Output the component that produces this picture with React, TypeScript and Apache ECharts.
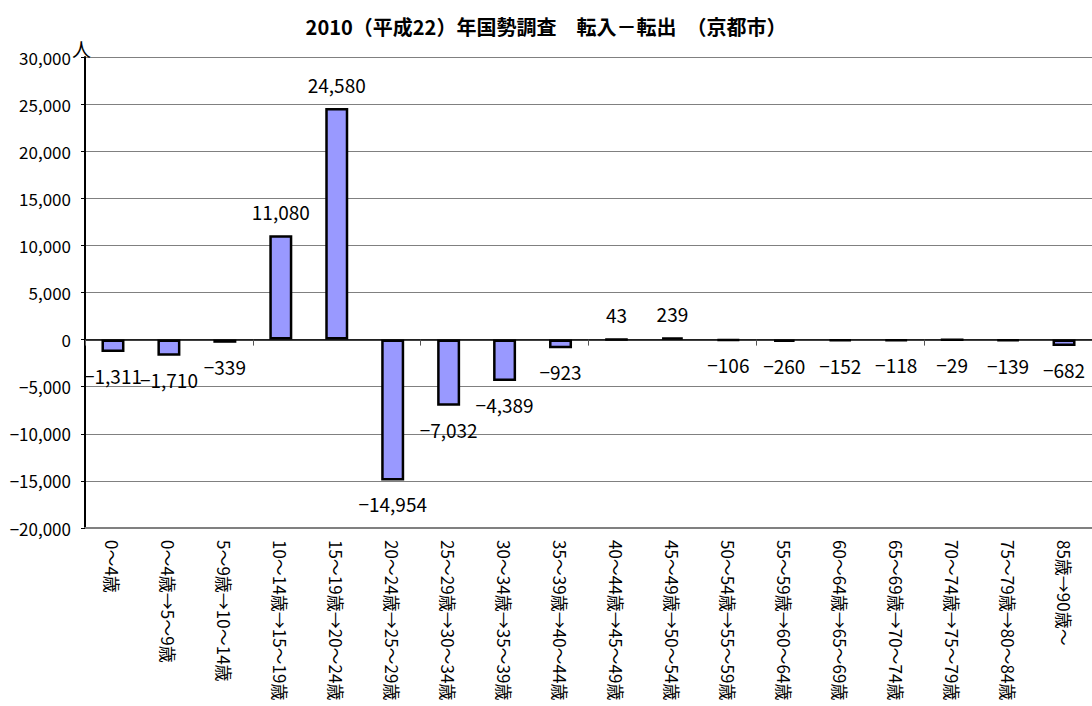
import { useEffect, useRef } from 'react'
import * as echarts from 'echarts'

const categories = [
  '0～4歳',
  '0～4歳→5～9歳',
  '5～9歳→10～14歳',
  '10～14歳→15～19歳',
  '15～19歳→20～24歳',
  '20～24歳→25～29歳',
  '25～29歳→30～34歳',
  '30～34歳→35～39歳',
  '35～39歳→40～44歳',
  '40～44歳→45～49歳',
  '45～49歳→50～54歳',
  '50～54歳→55～59歳',
  '55～59歳→60～64歳',
  '60～64歳→65～69歳',
  '65～69歳→70～74歳',
  '70～74歳→75～79歳',
  '75～79歳→80～84歳',
  '85歳→90歳～',
]

const netMigration = [
  -1311, -1710, -339, 11080, 24580, -14954, -7032, -4389, -923, 43, 239, -106, -260, -152, -118,
  -29, -139, -682,
]

const yMin = -20000
const yMax = 30000
const yStep = 5000

const FONT = '"Noto Sans CJK JP", "Noto Sans", sans-serif'

function fmt(v: number) {
  const s = Math.abs(v).toLocaleString('en-US')
  return v < 0 ? '−' + s : s
}

export default function App() {
  const chartRef = useRef<HTMLDivElement>(null)

  useEffect(() => {
    document.body.style.margin = '0'
    if (!chartRef.current) return
    const chart = echarts.init(chartRef.current, undefined, { renderer: 'svg' })

    chart.setOption({
      animation: false,
      textStyle: { fontFamily: FONT },
      title: {
        text: '2010（平成22）年国勢調査　転入－転出　（京都市）',
        left: 'center',
        top: 11,
        textStyle: { fontFamily: FONT, fontSize: 20, fontWeight: 'bold', color: '#000' },
      },
      graphic: [
        {
          type: 'text',
          x: 72,
          y: 39,
          z: 10,
          style: { text: '人', fontSize: 19, fontFamily: FONT, fill: '#000' },
        },
      ],
      grid: { left: 85, right: -6, top: 57, bottom: 178 },
      xAxis: [
        {
          type: 'category',
          data: categories,
          position: 'bottom',
          axisLine: { onZero: false, lineStyle: { color: '#808080', width: 2 } },
          axisTick: { show: false },
          axisLabel: {
            rotate: -90,
            interval: 0,
            margin: 12,
            fontSize: 17,
            color: '#000',
            fontFamily: FONT,
          },
        },
        {
          type: 'category',
          data: categories,
          axisLine: { onZero: true, lineStyle: { color: '#000', width: 1.5 } },
          axisTick: { show: true, inside: true, length: 6, lineStyle: { color: '#555' } },
          axisLabel: { show: false },
        },
      ],
      yAxis: {
        type: 'value',
        min: yMin,
        max: yMax,
        interval: yStep,
        axisLine: { show: true, lineStyle: { color: '#000', width: 2 } },
        axisTick: { show: true, length: 4, lineStyle: { color: '#000' } },
        axisLabel: {
          margin: 14,
          fontSize: 17,
          color: '#000',
          fontFamily: FONT,
          formatter: (v: number) => fmt(v),
        },
        splitLine: { lineStyle: { color: '#808080', width: 1 } },
      },
      series: [
        {
          type: 'bar',
          xAxisIndex: 0,
          barWidth: 23,
          data: netMigration.map((v) => ({
            value: v,
            label: { position: v >= 0 ? 'top' : 'bottom' },
          })),
          itemStyle: { color: '#9999FF', borderColor: '#000', borderWidth: 2.5 },
          label: {
            show: true,
            distance: 14,
            fontSize: 19,
            color: '#000',
            fontFamily: FONT,
            formatter: (p: any) => fmt(p.value),
          },
        },
      ],
    })

    return () => {
      chart.dispose()
    }
  }, [])

  return <div ref={chartRef} style={{ width: '1092px', height: '706px' }}></div>
}
